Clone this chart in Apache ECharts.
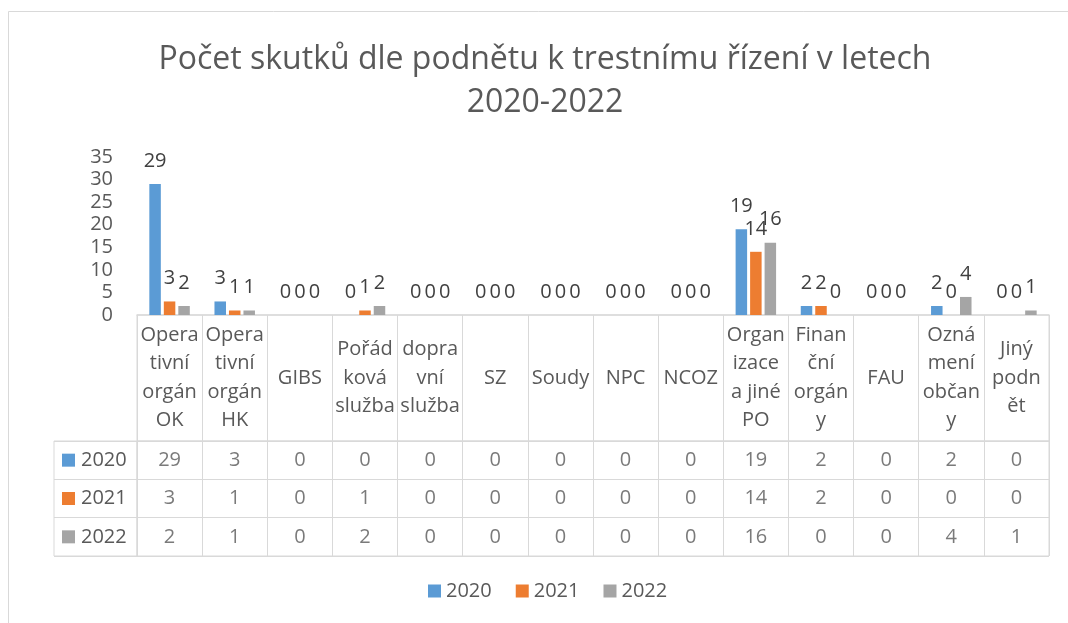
<!DOCTYPE html>
<html>
<head>
    <meta charset="UTF-8">
    <title>skutky</title>
    <script src="https://cdn.jsdelivr.net/npm/echarts@6/dist/echarts.min.js"></script>
    <style>
        *{margin:0;padding:0}
        html, body{ width:100%; height:100%; background:#fff; }
        #main{ width:1068px; height:623px; }
    </style>
</head>
<body>
    <div id="main"></div>
    <script type="text/javascript">
        // kategorie (zalomené jako v Excelu)
        var categories = ['Opera\ntivní\norgán\nOK', 'Opera\ntivní\norgán\nHK', 'GIBS', 'Pořád\nková\nslužba',
            'dopra\nvní\nslužba', 'SZ', 'Soudy', 'NPC', 'NCOZ', 'Organ\nizace\na jiné\nPO',
            'Finan\nční\norgán\ny', 'FAU', 'Ozná\nmení\nobčan\ny', 'Jiný\npodn\nět'];
        var years = ['2020', '2021', '2022'];
        var values2020 = [29, 3, 0, 0, 0, 0, 0, 0, 0, 19, 2, 0, 2, 0];
        var values2021 = [3, 1, 0, 1, 0, 0, 0, 0, 0, 14, 2, 0, 0, 0];
        var values2022 = [2, 1, 0, 2, 0, 0, 0, 0, 0, 16, 0, 0, 4, 1];
        var yTicks = [0, 5, 10, 15, 20, 25, 30, 35];

        var colors = ['#5b9bd5', '#ed7d31', '#a5a5a5'];
        var allValues = [values2020, values2021, values2022];
        var lineColor = '#d9d9d9';
        var txt = '#595959';
        var font = 'Open Sans';
        var fs = 20;

        // data tabulky pod grafem
        var tableData = [];
        allValues.forEach(function (vals, s) {
            vals.forEach(function (v, i) {
                tableData.push([categories[i], years[s], v]);
            });
        });

        var rich = {};
        colors.forEach(function (c, i) {
            rich['s' + i] = { width: 13, height: 13, backgroundColor: c };
            rich['t' + i] = { fontSize: fs, color: txt, fontFamily: font, padding: [0, 0, 0, 6] };
        });

        var myChart = echarts.init(document.getElementById('main'));
        var option = {
            animation: false,
            backgroundColor: '#fff',
            textStyle: { fontFamily: font },
            color: colors,
            title: {
                text: 'Počet skutků dle podnětu k trestnímu řízení v letech\n2020-2022',
                left: 545,
                top: 38,
                padding: 0,
                textAlign: 'center',
                textStyle: { fontSize: 32, fontWeight: 'normal', color: txt, lineHeight: 43, fontFamily: font }
            },
            legend: {
                data: years,
                left: 428,
                top: 581,
                padding: 0,
                itemGap: 24,
                itemWidth: 13,
                itemHeight: 13,
                icon: 'rect',
                textStyle: { fontSize: fs, color: txt, fontFamily: font }
            },
            graphic: [{
                type: 'rect',
                z: -10,
                shape: { x: 8.5, y: 11.5, width: 1200, height: 700 },
                style: { fill: 'none', stroke: lineColor, lineWidth: 1 }
            }],
            grid: [
                { left: 137, right: 19, top: 157, height: 158 },
                { left: 137, right: 19, top: 315, height: 126, show: true, borderColor: lineColor },
                { left: 137, right: 19, top: 441, height: 115, show: true, borderColor: lineColor },
                { left: 54, width: 83, top: 441, height: 115, show: true, borderColor: lineColor }
            ],
            xAxis: [
                {
                    type: 'category', gridIndex: 0, data: categories,
                    axisTick: { show: false },
                    axisLine: { lineStyle: { color: lineColor, width: 1.5 } },
                    axisLabel: {
                        interval: 0, margin: 63, verticalAlign: 'middle',
                        fontSize: fs, lineHeight: 28.5, color: txt, fontFamily: font
                    }
                },
                {
                    type: 'category', gridIndex: 1, data: categories,
                    axisTick: { show: false }, axisLine: { show: false }, axisLabel: { show: false },
                    splitLine: { show: true, interval: 0, lineStyle: { color: lineColor } }
                },
                {
                    type: 'category', gridIndex: 2, data: categories,
                    axisTick: { show: false }, axisLine: { show: false }, axisLabel: { show: false },
                    splitLine: { show: true, interval: 0, lineStyle: { color: lineColor } }
                },
                { type: 'value', gridIndex: 3, show: false }
            ],
            yAxis: [
                {
                    type: 'value', gridIndex: 0, min: yTicks[0], max: yTicks[yTicks.length - 1], interval: 5,
                    splitLine: { show: false },
                    axisLine: { show: false }, axisTick: { show: false },
                    axisLabel: { margin: 24, fontSize: fs, color: txt, fontFamily: font }
                },
                { type: 'value', gridIndex: 1, show: false },
                {
                    type: 'category', gridIndex: 2, data: years, inverse: true,
                    axisTick: { show: false }, axisLine: { show: false }, axisLabel: { show: false },
                    splitLine: { show: true, interval: 0, lineStyle: { color: lineColor } }
                },
                {
                    type: 'category', gridIndex: 3, data: years, inverse: true,
                    axisTick: { show: false }, axisLine: { show: false },
                    splitLine: { show: true, interval: 0, lineStyle: { color: lineColor } },
                    axisLabel: {
                        inside: true, margin: 8, align: 'left',
                        formatter: function (v, i) { return '{s' + i + '|}{t' + i + '|' + v + '}'; },
                        rich: rich
                    }
                }
            ],
            series: years.map(function (y, s) {
                return {
                    name: y,
                    type: 'bar',
                    xAxisIndex: 0, yAxisIndex: 0,
                    barWidth: 11.5,
                    barGap: '26%',
                    data: allValues[s],
                    label: {
                        show: true, position: 'top', distance: 13,
                        fontSize: fs, color: '#404040', fontFamily: font
                    }
                };
            }).concat([{
                name: 'tabulka',
                type: 'scatter',
                xAxisIndex: 2, yAxisIndex: 2,
                symbolSize: 1,
                itemStyle: { color: 'rgba(0,0,0,0)' },
                silent: true,
                data: tableData,
                label: {
                    show: true, position: 'inside',
                    formatter: function (p) { return p.value[2]; },
                    fontSize: fs, color: txt, fontFamily: font
                }
            }])
        };
        myChart.setOption(option);
    </script>
</body>
</html>
